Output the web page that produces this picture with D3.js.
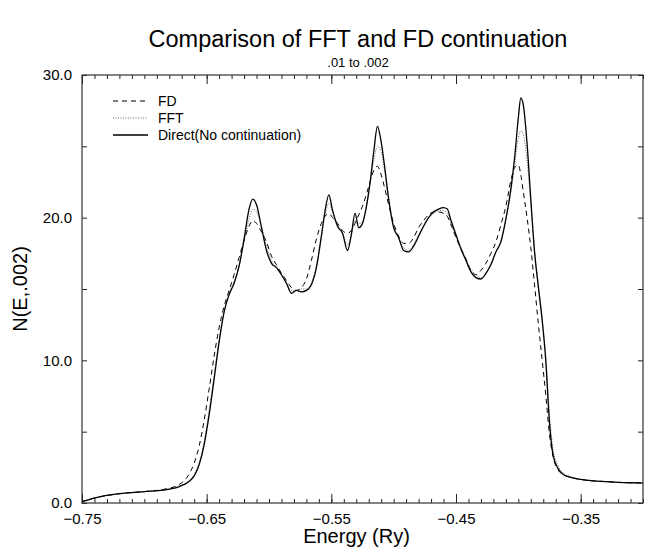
<!DOCTYPE html>
<html>
<head>
<meta charset="utf-8">
<script src="https://cdn.jsdelivr.net/npm/d3@7"></script>
<style>
  body { margin: 0; background: #fff; }
  svg { font-family: "Liberation Sans", Arial, Helvetica, sans-serif; }
</style>
</head>
<body>
<div class="vis-chart"></div>
<script>
// energy grid (Ry), shared by the three curves
const energy = [-0.750, -0.740, -0.720, -0.700, -0.685, -0.672, -0.665, -0.660, -0.656, -0.652,
  -0.648, -0.644, -0.640, -0.636, -0.632, -0.628, -0.624, -0.620, -0.616, -0.613,
  -0.610, -0.606, -0.602, -0.598, -0.594, -0.590, -0.586, -0.582, -0.578, -0.574,
  -0.570, -0.566, -0.562, -0.558, -0.555, -0.552, -0.549, -0.545, -0.541, -0.537,
  -0.534, -0.531, -0.528, -0.525, -0.522, -0.519, -0.516, -0.513, -0.510, -0.507,
  -0.504, -0.500, -0.496, -0.492, -0.488, -0.484, -0.480, -0.476, -0.472, -0.468,
  -0.464, -0.460, -0.457, -0.454, -0.450, -0.446, -0.442, -0.438, -0.434, -0.430,
  -0.426, -0.422, -0.418, -0.414, -0.410, -0.406, -0.403, -0.400, -0.398, -0.396,
  -0.393, -0.390, -0.387, -0.384, -0.381, -0.378, -0.375, -0.372, -0.368, -0.364,
  -0.358, -0.350, -0.340, -0.330, -0.320, -0.310, -0.300];

const fd = [0.1, 0.35, 0.65, 0.8, 0.95, 1.3, 1.9, 2.8, 4.0, 5.8,
  8.0, 10.3, 12.3, 13.8, 14.9, 16.0, 17.2, 18.4, 19.4, 19.8,
  19.6, 19.0, 18.3, 17.3, 16.7, 16.1, 15.6, 15.1, 14.9, 15.1,
  15.7, 17.0, 18.5, 19.6, 20.1, 20.3, 20.0, 19.6, 19.1, 18.9,
  19.1, 19.6, 20.2, 20.8, 21.6, 22.5, 23.3, 23.6, 23.0, 22.0,
  20.9, 19.6, 18.7, 18.2, 18.2, 18.6, 19.3, 19.8, 20.2, 20.4,
  20.4, 20.3, 20.1, 19.5, 18.6, 17.8, 17.1, 16.3, 16.0, 16.3,
  16.8, 17.5, 18.3, 19.5, 20.8, 22.6, 23.5, 23.7, 23.0, 21.8,
  20.0, 17.9, 15.3, 12.6, 10.1, 7.6, 4.8, 3.2, 2.3, 2.0,
  1.8, 1.65, 1.55, 1.5, 1.45, 1.42, 1.4];

const fft = [0.1, 0.35, 0.65, 0.8, 0.9, 1.2, 1.5, 2.0, 2.8, 4.3,
  6.5, 9.0, 11.4, 13.4, 14.7, 15.5, 16.6, 18.3, 19.9, 20.6,
  20.4, 19.4, 18.0, 17.0, 16.5, 16.0, 15.4, 14.9, 14.9, 15.0,
  15.0, 15.4, 16.6, 18.6, 20.2, 21.0, 20.4, 19.5, 18.9, 18.1,
  18.7, 19.8, 19.6, 19.7, 20.8, 22.4, 24.0, 25.0, 24.6, 23.1,
  21.3, 19.4, 18.6, 17.9, 17.7, 18.1, 18.8, 19.4, 20.0, 20.3,
  20.5, 20.5, 20.3, 19.6, 18.7, 17.9, 17.1, 16.4, 16.0, 15.8,
  16.1, 16.8, 17.6, 18.4, 19.9, 21.8, 23.7, 25.6, 26.1, 25.8,
  24.0, 21.0, 17.8, 15.3, 13.1, 10.3, 6.2, 3.7, 2.6, 2.1,
  1.85, 1.65, 1.55, 1.5, 1.45, 1.42, 1.4];

const direct = [0.1, 0.35, 0.65, 0.8, 0.9, 1.15, 1.45, 1.9, 2.7, 4.1,
  6.2, 8.7, 11.3, 13.4, 14.6, 15.4, 16.6, 18.5, 20.6, 21.3,
  20.9, 19.3, 17.7, 16.8, 16.5, 16.0, 15.4, 14.7, 14.9, 14.8,
  14.9, 15.3, 16.5, 18.7, 20.5, 21.6, 20.5, 19.4, 18.9, 17.7,
  18.8, 20.3, 19.3, 19.6, 20.7, 22.4, 24.6, 26.4, 25.3, 23.4,
  21.3, 19.3, 18.6, 17.7, 17.6, 18.0, 18.7, 19.4, 20.0, 20.4,
  20.6, 20.7, 20.6, 19.8, 18.8, 17.8, 17.0, 16.2, 15.8, 15.7,
  16.1, 16.7, 17.6, 18.3, 19.9, 22.0, 24.2, 27.0, 28.4, 27.9,
  25.2, 21.3, 17.6, 15.2, 12.9, 10.0, 5.6, 3.3, 2.4, 2.0,
  1.8, 1.65, 1.55, 1.5, 1.45, 1.42, 1.4];

const xMajor = [-0.75, -0.65, -0.55, -0.45, -0.35];
const yMajor = [0, 10, 20, 30];

const seriesNames = ["FD", "FFT", "Direct(No continuation)"];
const seriesDash = ["5,4", "1,1.5", null];
const seriesWidth = [1, 0.8, 1.3];
const seriesValues = [fd, fft, direct];

const width = 645;
const height = 549;
const margin = { top: 75, right: 2, bottom: 46, left: 82 };

const svg = d3.select('.vis-chart').append('svg')
  .attr('width', width)
  .attr('height', height);

const x = d3.scaleLinear().domain([-0.75, -0.30]).range([margin.left, width - margin.right]);
const y = d3.scaleLinear().domain([0, 30]).range([height - margin.bottom, margin.top]);

const x0 = x.range()[0], x1 = x.range()[1];
const y0 = y.range()[0], y1 = y.range()[1];

// titles
svg.append('text')
  .attr('x', 358).attr('y', 47)
  .attr('text-anchor', 'middle')
  .style('font-size', '23.5px')
  .text('Comparison of FFT and FD continuation');

svg.append('text')
  .attr('x', 358).attr('y', 67)
  .attr('text-anchor', 'middle')
  .style('font-size', '13px')
  .text('.01 to .002');

svg.append('text')
  .attr('x', (x0 + x1) / 2 - 6).attr('y', 543)
  .attr('text-anchor', 'middle')
  .style('font-size', '20px')
  .text('Energy (Ry)');

svg.append('text')
  .attr('transform', 'translate(27,' + (y0 + y1) / 2 + ') rotate(-90)')
  .attr('text-anchor', 'middle')
  .style('font-size', '20px')
  .text('N(E,.002)');

// axes, ticks pointing inward
const minorX = d3.range(-75, -29).map(d => d / 100);
const minorY = [5, 15, 25];

function styleAxis(g) {
  g.select('.domain').remove();
  g.selectAll('line').attr('stroke', '#222');
  g.selectAll('text').style('font-size', '15px').attr('fill', '#000');
}

svg.append('g').attr('transform', 'translate(0,' + y0 + ')')
  .call(d3.axisBottom(x).tickValues(minorX).tickSize(-4).tickFormat(''))
  .call(styleAxis);
svg.append('g').attr('transform', 'translate(0,' + y0 + ')')
  .call(d3.axisBottom(x).tickValues(xMajor).tickSize(-9).tickPadding(10).tickFormat(d3.format('.2f')))
  .call(styleAxis);

svg.append('g').attr('transform', 'translate(0,' + y1 + ')')
  .call(d3.axisTop(x).tickValues(minorX).tickSize(-4).tickFormat(''))
  .call(styleAxis);
svg.append('g').attr('transform', 'translate(0,' + y1 + ')')
  .call(d3.axisTop(x).tickValues(xMajor).tickSize(-9).tickFormat(''))
  .call(styleAxis);

svg.append('g').attr('transform', 'translate(' + x0 + ',0)')
  .call(d3.axisLeft(y).tickValues(yMajor).tickSize(-5).tickPadding(10).tickFormat(d3.format('.1f')))
  .call(styleAxis);
svg.append('g').attr('transform', 'translate(' + x0 + ',0)')
  .call(d3.axisLeft(y).tickValues(minorY).tickSize(-5).tickFormat(''))
  .call(styleAxis);

svg.append('g').attr('transform', 'translate(' + x1 + ',0)')
  .call(d3.axisRight(y).tickValues(d3.merge([yMajor, minorY])).tickSize(-5).tickFormat(''))
  .call(styleAxis);

svg.append('rect')
  .attr('x', x0).attr('y', y1)
  .attr('width', x1 - x0).attr('height', y0 - y1)
  .attr('fill', 'none')
  .attr('stroke', '#333')
  .attr('stroke-width', 1.2);

// curves
const line = d3.line()
  .x((d, i) => x(energy[i]))
  .y(d => y(d))
  .curve(d3.curveMonotoneX);

seriesValues.forEach(function (vals, k) {
  svg.append('path')
    .datum(vals)
    .attr('fill', 'none')
    .attr('stroke', k === 1 ? '#444' : '#000')
    .attr('stroke-width', seriesWidth[k])
    .attr('stroke-dasharray', seriesDash[k])
    .attr('d', line);
});

// legend
const legend = svg.append('g');
seriesNames.forEach(function (name, k) {
  const ly = 101 + k * 17;
  legend.append('line')
    .attr('x1', 113).attr('x2', 148)
    .attr('y1', ly).attr('y2', ly)
    .attr('stroke', k === 1 ? '#444' : '#000')
    .attr('stroke-width', seriesWidth[k])
    .attr('stroke-dasharray', seriesDash[k]);
  legend.append('text')
    .attr('x', 158).attr('y', ly + 5)
    .style('font-size', '14px')
    .text(name);
});
</script>
</body>
</html>
